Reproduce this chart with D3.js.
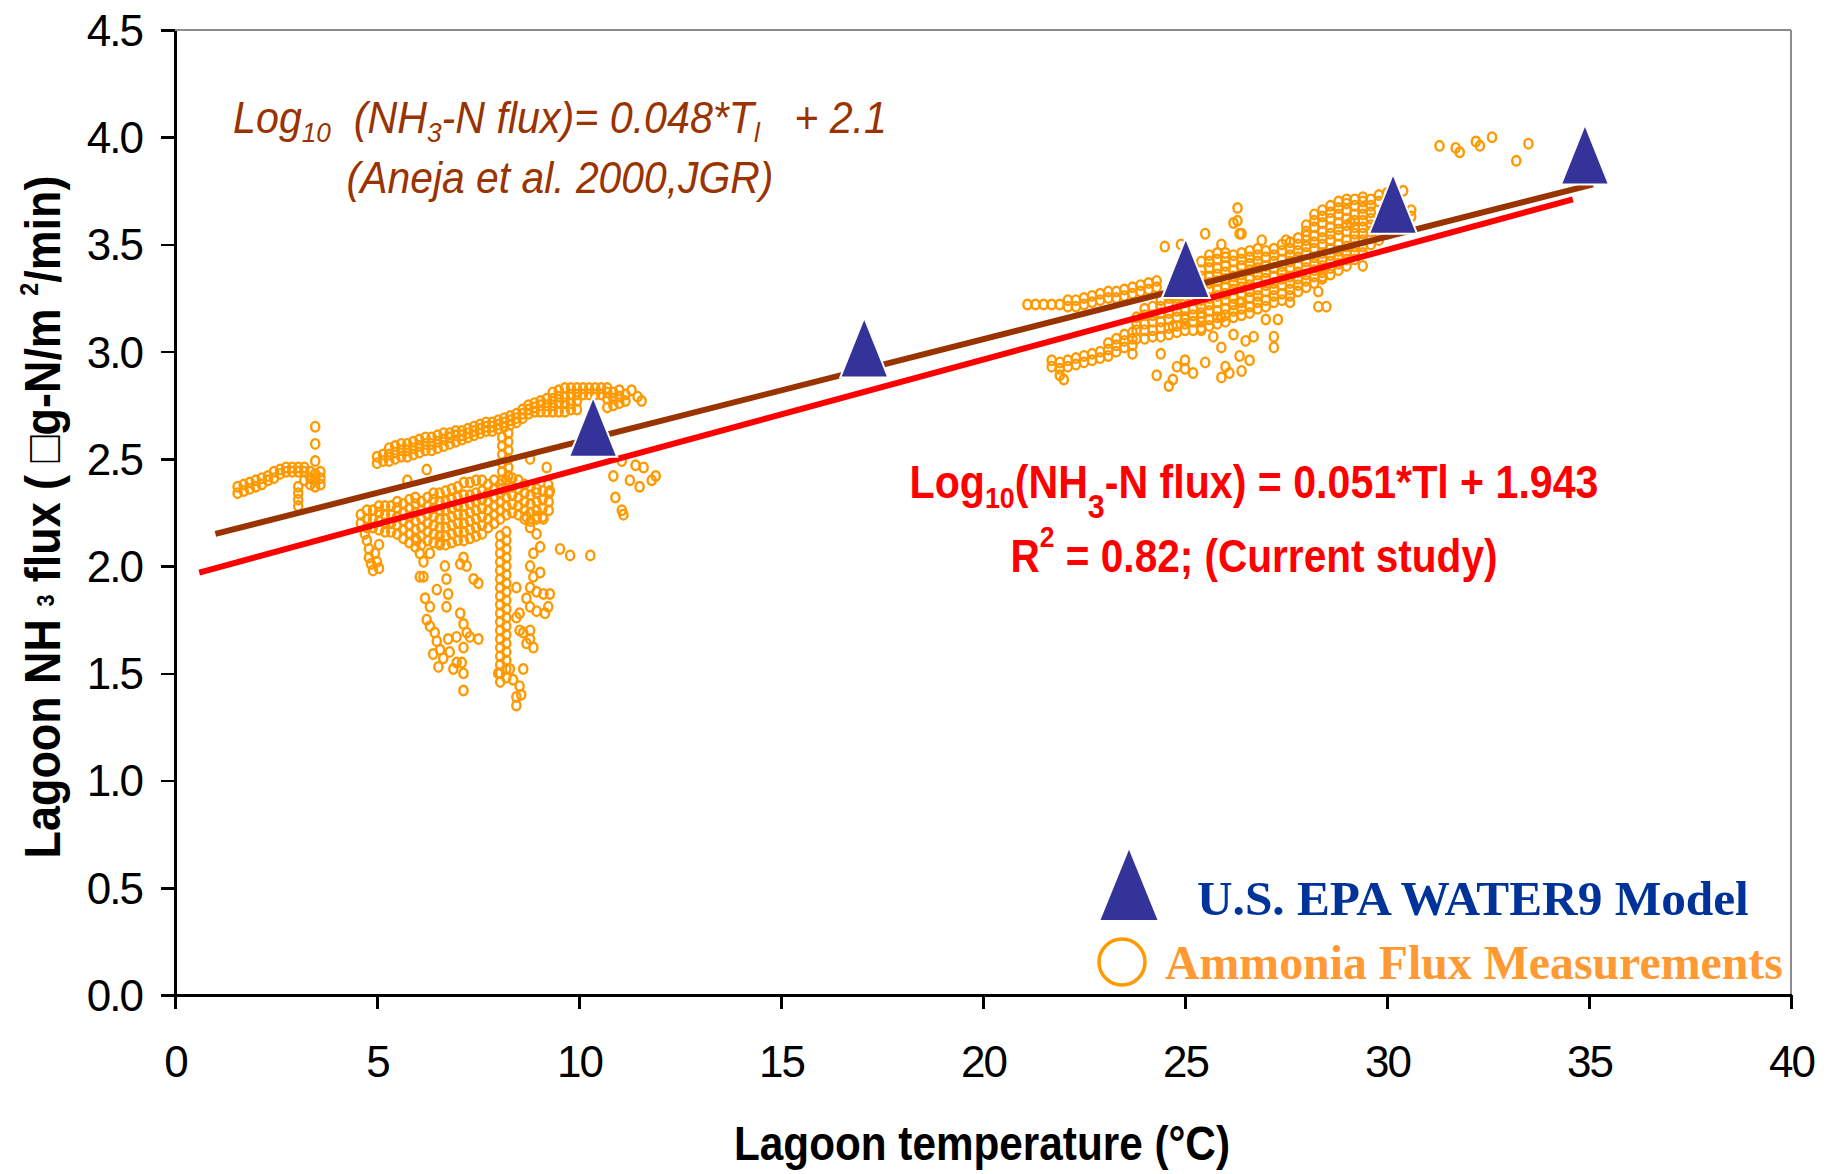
<!DOCTYPE html>
<html lang="en">
<head>
<meta charset="utf-8">
<title>Lagoon NH3 flux vs lagoon temperature</title>
<script src="https://cdnjs.cloudflare.com/ajax/libs/d3/7.8.5/d3.min.js"></script>
<style>
  body { margin: 0; background: white; }
  svg { display: block; background: white; }
  .axis path, .axis line { stroke: black; stroke-width: 2.5; fill: none; shape-rendering: crispEdges; }
  .axis text { font-family: "Liberation Sans", Arial, sans-serif; font-size: 44px; fill: black; letter-spacing: -2px; }
  .frame { stroke: #8c8c8c; stroke-width: 2; fill: none; shape-rendering: crispEdges; }
  .meas { fill: none; stroke: #FF9900; stroke-width: 2.4; }
  .model { fill: #333399; stroke: white; stroke-width: 2; }
  text { white-space: pre; }
</style>
</head>
<body>
<script>
// ---- data ----
var tempTicks = [0, 5, 10, 15, 20, 25, 30, 35, 40];
var fluxTicks = [0, 0.5, 1, 1.5, 2, 2.5, 3, 3.5, 4, 4.5];

// WATER9 model points
var water9Temp = [10.35, 17.06, 25.02, 30.15, 34.9];
var water9Flux = [2.65, 3.02, 3.39, 3.69, 3.92];

// regression lines (end points)
var anejaLine = [[1.0, 2.15], [35.1, 3.78]];
var currentLine = [[0.6, 1.97], [34.6, 3.71]];

// measurements, columns written as [temp, flux, flux, ...]
var lowTempCols = [
  [1.55, 2.34, 2.37], [1.7, 2.35, 2.38], [1.85, 2.36, 2.39], [2.0, 2.37, 2.40],
  [2.15, 2.38, 2.41], [2.3, 2.40, 2.42], [2.45, 2.41, 2.44], [2.6, 2.43, 2.45],
  [2.75, 2.44, 2.46], [2.9, 2.44, 2.46], [3.05, 2.28, 2.31, 2.34, 2.37, 2.44, 2.46],
  [3.2, 2.40, 2.44, 2.46], [3.35, 2.38, 2.41, 2.44], [3.47, 2.37, 2.40, 2.43, 2.49, 2.57, 2.65],
  [3.6, 2.38, 2.41, 2.44]
];

var springUpperCols = [
  [5.0, 2.48, 2.51], [5.15, 2.49, 2.52], [5.3, 2.49, 2.52, 2.55], [5.45, 2.50, 2.53, 2.56],
  [5.6, 2.51, 2.54, 2.57], [5.75, 2.51, 2.54, 2.57], [5.9, 2.52, 2.55, 2.58], [6.05, 2.53, 2.56, 2.59],
  [6.2, 2.54, 2.57, 2.60], [6.35, 2.54, 2.57, 2.60], [6.5, 2.55, 2.58, 2.61], [6.65, 2.56, 2.59, 2.62],
  [6.8, 2.57, 2.60, 2.62], [6.95, 2.58, 2.61, 2.63], [7.1, 2.59, 2.61, 2.63], [7.25, 2.60, 2.62, 2.64],
  [7.4, 2.61, 2.63, 2.65], [7.55, 2.62, 2.64, 2.66], [7.7, 2.63, 2.65, 2.67], [7.85, 2.63, 2.65, 2.67],
  [8.0, 2.64, 2.66, 2.68], [8.15, 2.65, 2.67, 2.69], [8.3, 2.66, 2.68, 2.70], [8.45, 2.67, 2.69, 2.71],
  [8.6, 2.69, 2.71, 2.73], [8.75, 2.71, 2.73, 2.75], [8.9, 2.72, 2.74, 2.76], [9.05, 2.72, 2.75, 2.77],
  [9.2, 2.72, 2.75, 2.78], [9.35, 2.72, 2.75, 2.78, 2.81], [9.5, 2.72, 2.76, 2.79, 2.82],
  [9.65, 2.72, 2.76, 2.79, 2.83], [9.8, 2.73, 2.76, 2.80, 2.83], [9.95, 2.73, 2.77, 2.80, 2.83],
  [10.1, 2.80, 2.83], [10.25, 2.80, 2.83], [10.4, 2.80, 2.83], [10.55, 2.80, 2.83],
  [10.7, 2.74, 2.78, 2.81, 2.83], [10.85, 2.75, 2.78, 2.81], [11.0, 2.76, 2.79, 2.82], [11.15, 2.77, 2.80],
  [8.1, 2.36, 2.40, 2.44, 2.48, 2.52, 2.56, 2.60], [8.25, 2.38, 2.42, 2.46, 2.50, 2.54, 2.58, 2.62]
];

var springLowerCols = [
  [4.6, 2.20, 2.24], [4.75, 2.18, 2.22, 2.26], [4.9, 2.18, 2.22, 2.26], [5.05, 2.17, 2.21, 2.25, 2.28],
  [5.2, 2.16, 2.20, 2.24, 2.28], [5.35, 2.16, 2.20, 2.24, 2.28], [5.5, 2.15, 2.19, 2.23, 2.27, 2.30],
  [5.65, 2.13, 2.17, 2.21, 2.25, 2.29], [5.8, 2.11, 2.15, 2.19, 2.23, 2.27, 2.31],
  [5.95, 2.09, 2.13, 2.17, 2.21, 2.25, 2.29, 2.32], [6.1, 2.10, 2.14, 2.18, 2.22, 2.26, 2.30],
  [6.25, 2.12, 2.16, 2.20, 2.24, 2.28, 2.32], [6.4, 2.11, 2.15, 2.19, 2.23, 2.27, 2.31, 2.34],
  [6.55, 2.10, 2.14, 2.18, 2.22, 2.26, 2.30, 2.34], [6.7, 2.10, 2.14, 2.18, 2.22, 2.26, 2.30, 2.35],
  [6.85, 2.11, 2.15, 2.19, 2.23, 2.27, 2.31, 2.36], [7.0, 2.12, 2.16, 2.20, 2.24, 2.28, 2.32, 2.37],
  [7.15, 2.12, 2.16, 2.20, 2.24, 2.28, 2.33, 2.39], [7.3, 2.13, 2.17, 2.21, 2.25, 2.29, 2.33, 2.39],
  [7.45, 2.14, 2.18, 2.22, 2.26, 2.30, 2.34, 2.40], [7.6, 2.15, 2.19, 2.23, 2.27, 2.31, 2.35, 2.40],
  [7.75, 2.18, 2.22, 2.26, 2.30, 2.34, 2.38], [7.9, 2.20, 2.24, 2.28, 2.32, 2.36, 2.40],
  [8.05, 2.22, 2.26, 2.30, 2.34, 2.38], [8.2, 2.24, 2.28, 2.32, 2.36, 2.40],
  [8.35, 2.25, 2.29, 2.33, 2.37, 2.41], [8.5, 2.24, 2.28, 2.32, 2.36, 2.40],
  [8.65, 2.22, 2.26, 2.30, 2.34, 2.38], [8.8, 2.21, 2.25, 2.29, 2.33, 2.37],
  [8.95, 2.22, 2.26, 2.30, 2.34], [9.1, 2.23, 2.27, 2.31, 2.35], [9.25, 2.26, 2.30, 2.34],
  [8.05, 2.14, 2.10, 2.06, 2.02, 1.98, 1.94, 1.90, 1.86, 1.82, 1.78, 1.74, 1.70, 1.66, 1.62, 1.58, 1.54, 1.50, 1.46],
  [8.2, 2.16, 2.12, 2.08, 2.04, 2.00, 1.96, 1.92, 1.88, 1.84, 1.80, 1.76, 1.72, 1.68, 1.64, 1.60, 1.56, 1.52, 1.48]
];

var springScatter = [
  [4.7, 2.15], [4.75, 2.12], [4.8, 2.08], [4.8, 2.04], [4.85, 2.01], [4.95, 2.06], [5.0, 2.02],
  [5.05, 1.99], [5.05, 2.10], [4.9, 1.98],
  [5.98, 2.12], [6.06, 2.06], [6.15, 2.02], [6.31, 2.06], [6.56, 2.11], [6.68, 2.00], [6.72, 1.94],
  [6.76, 1.87], [6.48, 1.89], [6.19, 1.85], [6.15, 1.95], [6.23, 1.75], [6.31, 1.72], [6.43, 1.69],
  [6.48, 1.65], [6.56, 1.61], [6.64, 1.57], [6.52, 1.53], [6.39, 1.59], [6.76, 1.66], [6.80, 1.60],
  [7.06, 1.78], [7.14, 1.73], [7.22, 1.69], [7.14, 1.62], [7.10, 1.55], [7.14, 1.50], [7.14, 1.42],
  [6.97, 1.67], [7.30, 1.67], [7.51, 1.66], [7.39, 1.94], [7.51, 1.92], [7.06, 2.01], [7.22, 2.00],
  [7.14, 2.04], [6.06, 1.95], [6.31, 1.81], [6.72, 1.81], [6.97, 1.55], [6.89, 1.52],
  [8.0, 1.50], [8.37, 1.47], [8.53, 1.44], [8.45, 1.39], [8.57, 1.40], [8.45, 1.35], [8.29, 1.52],
  [8.62, 1.52], [8.53, 1.70], [8.45, 1.76],
  [8.70, 2.23], [8.79, 2.18], [8.95, 2.15], [9.04, 2.09], [8.87, 2.06], [8.79, 2.00], [8.87, 1.95],
  [9.04, 1.97], [8.79, 1.90], [8.95, 1.88], [9.12, 1.87], [9.28, 1.87], [8.70, 1.85], [8.79, 1.81],
  [8.95, 1.79], [9.16, 1.78], [9.24, 1.81], [8.62, 1.69], [8.79, 1.66], [8.87, 1.62], [8.70, 1.64],
  [8.53, 1.78], [8.45, 1.90], [8.95, 2.23], [9.12, 2.22], [8.79, 1.70],
  [5.75, 2.40], [6.23, 2.45], [9.2, 2.46], [9.24, 2.38], [8.79, 2.50], [8.95, 2.36], [9.28, 2.35],
  [10.85, 2.42], [11.26, 2.40], [11.6, 2.46], [11.8, 2.40], [11.5, 2.37], [10.9, 2.32], [11.06, 2.26],
  [11.1, 2.24], [9.53, 2.08], [9.78, 2.05], [10.28, 2.05], [11.4, 2.47], [11.06, 2.49], [11.3, 2.82],
  [11.45, 2.79], [11.55, 2.77], [11.9, 2.42]
];

var summerLeftCols = [
  [21.1, 3.22], [21.3, 3.22], [21.5, 3.22], [21.7, 3.22], [21.9, 3.22],
  [22.1, 3.21, 3.24], [22.3, 3.21, 3.24], [22.5, 3.22, 3.25], [22.7, 3.23, 3.26], [22.9, 3.24, 3.27],
  [23.1, 3.25, 3.28], [23.3, 3.25, 3.28], [23.5, 3.26, 3.29], [23.7, 3.27, 3.30], [23.9, 3.28, 3.31],
  [24.1, 3.29, 3.32], [24.3, 3.30, 3.33],
  [21.7, 2.93, 2.96], [21.9, 2.89, 2.92, 2.95], [22.0, 2.87], [22.1, 2.93, 2.96], [22.3, 2.94, 2.97],
  [22.5, 2.95, 2.98], [22.7, 2.96, 2.99], [22.9, 2.97, 3.00], [23.1, 2.98, 3.01, 3.04],
  [23.3, 3.00, 3.03, 3.06], [23.5, 3.02, 3.05, 3.08], [23.7, 3.03, 3.06, 3.09]
];

var summerMainCols = [
  [23.8, 3.06, 3.10, 3.13, 3.16], [24.0, 3.06, 3.10, 3.13, 3.17, 3.20],
  [24.2, 3.07, 3.10, 3.14, 3.17, 3.21], [24.4, 3.07, 3.11, 3.14, 3.18, 3.21, 3.24],
  [24.6, 3.08, 3.11, 3.15, 3.18, 3.22, 3.25], [24.8, 3.09, 3.12, 3.16, 3.19, 3.22, 3.25],
  [25.0, 3.10, 3.13, 3.16, 3.20, 3.23, 3.26], [25.2, 3.10, 3.14, 3.17, 3.20, 3.24, 3.27],
  [25.4, 3.11, 3.14, 3.18, 3.21, 3.24, 3.28, 3.31, 3.35, 3.38, 3.42],
  [25.6, 3.12, 3.15, 3.19, 3.22, 3.25, 3.29, 3.32, 3.35, 3.39, 3.42, 3.45],
  [25.8, 3.13, 3.16, 3.19, 3.23, 3.26, 3.29, 3.33, 3.36, 3.39, 3.43, 3.46],
  [26.0, 3.14, 3.17, 3.20, 3.24, 3.27, 3.30, 3.34, 3.37, 3.40, 3.44, 3.46],
  [26.2, 3.16, 3.19, 3.22, 3.25, 3.29, 3.32, 3.35, 3.38, 3.42, 3.45],
  [26.4, 3.17, 3.20, 3.23, 3.27, 3.30, 3.33, 3.36, 3.40, 3.43, 3.46],
  [26.6, 3.18, 3.21, 3.25, 3.28, 3.31, 3.34, 3.38, 3.41, 3.44, 3.47],
  [26.8, 3.20, 3.23, 3.26, 3.29, 3.33, 3.36, 3.39, 3.42, 3.45, 3.48],
  [27.0, 3.21, 3.24, 3.28, 3.31, 3.34, 3.37, 3.40, 3.44, 3.47],
  [27.2, 3.23, 3.26, 3.29, 3.32, 3.35, 3.39, 3.42, 3.45, 3.48],
  [27.4, 3.24, 3.27, 3.31, 3.34, 3.37, 3.40, 3.43, 3.47, 3.50],
  [27.6, 3.26, 3.29, 3.32, 3.35, 3.39, 3.42, 3.45, 3.48, 3.51],
  [27.8, 3.28, 3.31, 3.34, 3.37, 3.40, 3.44, 3.47, 3.50, 3.53],
  [28.0, 3.30, 3.33, 3.36, 3.39, 3.42, 3.46, 3.49, 3.52, 3.56, 3.59],
  [28.2, 3.32, 3.35, 3.38, 3.41, 3.44, 3.48, 3.51, 3.54, 3.58, 3.61, 3.64],
  [28.4, 3.34, 3.37, 3.40, 3.43, 3.46, 3.50, 3.53, 3.56, 3.60, 3.63, 3.66],
  [28.6, 3.36, 3.39, 3.42, 3.45, 3.48, 3.52, 3.55, 3.58, 3.62, 3.65, 3.68],
  [28.8, 3.38, 3.41, 3.44, 3.47, 3.50, 3.54, 3.57, 3.60, 3.64, 3.67, 3.70],
  [29.0, 3.40, 3.43, 3.46, 3.49, 3.52, 3.56, 3.59, 3.62, 3.66, 3.69, 3.71],
  [29.2, 3.43, 3.46, 3.49, 3.52, 3.55, 3.58, 3.61, 3.64, 3.68, 3.71],
  [29.4, 3.46, 3.49, 3.52, 3.55, 3.58, 3.61, 3.64, 3.67, 3.70, 3.72],
  [29.6, 3.50, 3.53, 3.56, 3.59, 3.62, 3.65, 3.68, 3.71],
  [29.8, 3.52, 3.55, 3.58, 3.70, 3.73], [30.0, 3.55, 3.58, 3.74], [30.2, 3.57, 3.60, 3.75],
  [30.4, 3.60, 3.63, 3.75], [30.6, 3.63, 3.66]
];

var summerScatter = [
  [24.3, 2.89], [24.7, 2.87], [24.8, 2.93], [25.0, 2.96], [25.0, 2.92], [25.5, 2.95], [26.0, 2.93],
  [26.35, 2.98], [26.6, 2.96], [26.2, 3.08], [26.5, 3.05], [26.7, 3.07], [27.2, 3.02], [27.2, 3.07],
  [27.3, 3.15], [27.0, 3.15], [27.6, 3.23], [28.3, 3.21], [28.5, 3.21], [28.3, 3.28], [29.4, 3.40],
  [28.4, 3.35], [25.9, 3.02], [25.7, 3.07], [25.4, 3.10], [24.4, 2.99], [23.7, 2.99], [24.7, 3.12],
  [25.0, 3.15], [25.4, 3.16], [25.9, 3.16], [26.35, 3.23], [24.6, 2.84], [25.2, 2.90], [26.1, 2.90],
  [25.9, 2.88], [26.4, 2.91],
  [24.5, 3.49], [24.9, 3.50], [25.5, 3.55], [26.35, 3.55], [26.2, 3.60], [27.5, 3.52], [28.0, 3.54],
  [29.1, 3.60], [26.3, 3.67], [26.3, 3.61], [26.4, 3.55], [25.9, 3.50], [26.9, 3.52],
  [31.3, 3.96], [31.7, 3.95], [31.8, 3.93], [32.3, 3.96], [32.2, 3.98], [32.6, 4.00], [33.5, 3.97], [33.2, 3.89]
];

// ---- layout ----
var fullwidth = 1832;
var fullheight = 1174;
var margin = { top: 30, right: 41, bottom: 179, left: 175 };
var width = fullwidth - margin.left - margin.right;
var height = fullheight - margin.top - margin.bottom;

var root = d3.select("body").append("svg")
  .attr("width", fullwidth)
  .attr("height", fullheight);

var svg = root.append("g")
  .attr("transform", "translate(" + margin.left + "," + margin.top + ")");

var xScale = d3.scaleLinear().domain([0, 40]).range([0, width]);
var yScale = d3.scaleLinear().domain([0, 4.5]).range([height, 0]);

function unpack(cols) {
  var out = [];
  cols.forEach(function(c) {
    for (var i = 1; i < c.length; i++) out.push([c[0], c[i]]);
  });
  return out;
}

var measurements = []
  .concat(unpack(lowTempCols))
  .concat(unpack(springUpperCols))
  .concat(unpack(springLowerCols))
  .concat(springScatter)
  .concat(unpack(summerLeftCols))
  .concat(unpack(summerMainCols))
  .concat(summerScatter);

// grey frame on top / right
svg.append("line").attr("class", "frame")
  .attr("x1", 0).attr("x2", width).attr("y1", 0).attr("y2", 0);
svg.append("line").attr("class", "frame")
  .attr("x1", width).attr("x2", width).attr("y1", 0).attr("y2", height);

// measurements
svg.append("g").selectAll("ellipse")
  .data(measurements)
  .enter()
  .append("ellipse")
  .attr("class", "meas")
  .attr("cx", function(d) { return xScale(d[0]); })
  .attr("cy", function(d) { return yScale(d[1]); })
  .attr("rx", 4.1)
  .attr("ry", 4.8);

// regression lines
var line = d3.line()
  .x(function(d) { return xScale(d[0]); })
  .y(function(d) { return yScale(d[1]); });

svg.append("path").datum(anejaLine)
  .attr("d", line).attr("fill", "none").attr("stroke", "#993300").attr("stroke-width", 6);
svg.append("path").datum(currentLine)
  .attr("d", line).attr("fill", "none").attr("stroke", "#FF0000").attr("stroke-width", 6);

// WATER9 triangles
svg.append("g").selectAll("path")
  .data(water9Temp)
  .enter()
  .append("path")
  .attr("class", "model")
  .attr("d", "M0,-30L24,30L-24,30Z")
  .attr("transform", function(d, i) {
    return "translate(" + xScale(d) + "," + yScale(water9Flux[i]) + ")";
  });

// axes
var xAxis = d3.axisBottom(xScale).tickValues(tempTicks).tickSize(14).tickSizeOuter(0);
var yAxis = d3.axisLeft(yScale).tickValues(fluxTicks).tickFormat(d3.format(".1f"))
  .tickSize(14).tickSizeOuter(0).tickPadding(19);

svg.append("g")
  .attr("class", "x axis")
  .attr("transform", "translate(0," + height + ")")
  .call(xAxis)
  .selectAll("text")
  .attr("y", 82)
  .attr("dy", 0);

svg.append("g")
  .attr("class", "y axis")
  .call(yAxis)
  .selectAll("text")
  .attr("dy", "0.35em");

// ---- texts ----
function addParts(text, parts) {
  var cur = 0;
  parts.forEach(function(p) {
    var s = p.shift || 0;
    var sp = text.append("tspan").attr("dy", s - cur).text(p.t);
    if (p.size) sp.attr("font-size", p.size);
    cur = s;
  });
}

// put a text in a group and squeeze it to the width measured on the picture
function label(x, y, target, style, parts, rotate) {
  var g = root.append("g");
  var t = g.append("text")
    .attr("font-family", style.family || "'Liberation Sans', Arial, sans-serif")
    .attr("font-size", style.size)
    .attr("font-weight", style.weight || "normal")
    .attr("font-style", style.italic ? "italic" : "normal")
    .attr("fill", style.color || "black")
    .attr("text-anchor", style.anchor || "middle");
  addParts(t, parts);
  var w = g.node().getBBox().width;
  var k = w > 0 ? target / w : 1;
  g.attr("transform", "translate(" + x + "," + y + ")" + (rotate ? " rotate(" + rotate + ")" : "") +
    " scale(" + k + ",1)");
  return g;
}

// axis titles
label(982, 1160, 496, { size: 48, weight: "bold" }, [{ t: "Lagoon temperature (\u00B0C)" }]);
label(60, 517, 683, { size: 50, weight: "bold" }, [
  { t: "Lagoon NH " }, { t: "3", size: 24, shift: -6 }, { t: " flux ( \u25A1g-N/m " },
  { t: "2", size: 26, shift: -22 }, { t: "/min)" }
], -90);

// Aneja et al. equation
label(560, 133, 654, { size: 44, italic: true, color: "#993300" }, [
  { t: "Log" }, { t: "10", size: 28, shift: 9 }, { t: "  (NH" }, { t: "3", size: 28, shift: 9 },
  { t: "-N flux)= 0.048*T" }, { t: "l", size: 28, shift: 9 }, { t: "   + 2.1" }
]);
label(560, 193, 427, { size: 44, italic: true, color: "#993300" }, [{ t: "(Aneja et al. 2000,JGR)" }]);

// current study equation
label(1254, 498, 689, { size: 46, weight: "bold", color: "#FF0000" }, [
  { t: "Log" }, { t: "10", size: 30, shift: 10 }, { t: "(NH" }, { t: "3", size: 34, shift: 20 },
  { t: "-N flux) = 0.051*Tl + 1.943" }
]);
label(1254, 572, 487, { size: 46, weight: "bold", color: "#FF0000" }, [
  { t: "R" }, { t: "2", size: 30, shift: -25 }, { t: " = 0.82; (Current study)" }
]);

// legend
root.append("path")
  .attr("class", "model")
  .attr("d", "M0,-37L30,37L-30,37Z")
  .attr("transform", "translate(1129,884)")
  .attr("stroke", "none");
root.append("circle")
  .attr("cx", 1122).attr("cy", 962).attr("r", 23)
  .attr("fill", "none").attr("stroke", "#FF9900").attr("stroke-width", 3.5);

label(1197, 915, 552, { size: 48, weight: "bold", color: "#003399", anchor: "start",
  family: "'Liberation Serif', 'Times New Roman', serif" }, [{ t: "U.S. EPA WATER9 Model" }]);
label(1165, 979, 618, { size: 48, weight: "bold", color: "#FF9933", anchor: "start",
  family: "'Liberation Serif', 'Times New Roman', serif" }, [{ t: "Ammonia Flux Measurements" }]);
</script>
</body>
</html>
